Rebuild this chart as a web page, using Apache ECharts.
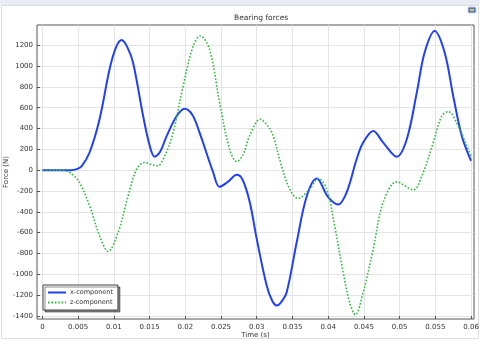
<!DOCTYPE html>
<html>
<head>
<meta charset="UTF-8">
<title>Bearing forces</title>
<style>
html, body { margin: 0; padding: 0; width: 100%; height: 100%; background: #fff; }
#chart { width: 480px; height: 341px; }
</style>
<script src="https://cdn.jsdelivr.net/npm/echarts@6/dist/echarts.min.js"></script>
</head>
<body>
<div id="chart"></div>
<script type="text/javascript">
// time (s) and force (N)
var xTime = [0, 0.002, 0.004, 0.0048, 0.0055, 0.0066, 0.008, 0.0094, 0.0103, 0.0111, 0.0119, 0.0127,
    0.0141, 0.015, 0.0157, 0.0165, 0.0174, 0.0188, 0.0199, 0.021, 0.022, 0.0239, 0.0248, 0.026,
    0.0272, 0.028, 0.029, 0.03, 0.0314, 0.0322, 0.0328, 0.0334, 0.0342, 0.0356, 0.037, 0.0384,
    0.04, 0.0414, 0.0426, 0.044, 0.0449, 0.0463, 0.0477, 0.0496, 0.051, 0.0524, 0.0535, 0.0549,
    0.0563, 0.0575, 0.0587, 0.06];
var xForce = [0, 0, 0, 10, 40, 170, 490, 970, 1180, 1250, 1180, 1030,
    520, 240, 130, 180, 330, 520, 590, 530, 360, -20, -160, -110,
    -45, -90, -300, -660, -1110, -1260, -1300, -1270, -1170, -690, -250, -80,
    -260, -330, -210, 110, 265, 377, 265, 130, 297, 745, 1130, 1337,
    1130, 713, 329, 90];

var zTime = [0, 0.002, 0.0032, 0.0042, 0.0052, 0.0066, 0.008, 0.0092, 0.0106, 0.012, 0.0132, 0.0143,
    0.0152, 0.0161, 0.0172, 0.0183, 0.0197, 0.0211, 0.0221, 0.0234, 0.0248, 0.0262, 0.0272, 0.0281,
    0.029, 0.0305, 0.0316, 0.0323, 0.0332, 0.0346, 0.0358, 0.0374, 0.0386, 0.0398, 0.0409, 0.0421,
    0.043, 0.0438, 0.0449, 0.0463, 0.0477, 0.0496, 0.0519, 0.0533, 0.0547, 0.0559, 0.0568, 0.0582,
    0.0594, 0.06];
var zForce = [0, 0, -5, -40, -118, -342, -630, -780, -598, -246, 10, 74,
    55, 41, 150, 362, 809, 1193, 1290, 1161, 650, 202, 83, 150,
    330, 490, 420, 330, 105, -182, -272, -182, -80, -182, -534, -982,
    -1270, -1390, -1174, -758, -310, -112, -189, -22, 265, 521, 563, 425,
    233, 137];

var timeTicks = [0, 0.005, 0.01, 0.015, 0.02, 0.025, 0.03, 0.035, 0.04, 0.045, 0.05, 0.055, 0.06];
var forceTicks = [-1400, -1200, -1000, -800, -600, -400, -200, 0, 200, 400, 600, 800, 1000, 1200];

function pairs(t, v) {
    var out = [];
    for (var i = 0; i < t.length; i++) out.push([t[i], v[i]]);
    return out;
}

var myChart = echarts.init(document.getElementById('chart'));
var labelStyle = { fontFamily: 'DejaVu Sans', fontSize: 7, color: '#333' };

var option = {
    backgroundColor: '#fff',
    animation: false,
    title: {
        text: 'Bearing forces',
        left: 229, top: 9,
        textStyle: { fontFamily: 'DejaVu Sans', fontSize: 7.5, fontWeight: 'normal', color: '#333' }
    },
    graphic: [
        { type: 'rect', shape: { x: 0, y: 0, width: 480, height: 5 }, style: { fill: '#e8edf5' }, silent: true },
        { type: 'rect', shape: { x: 1.5, y: 5.5, width: 477, height: 333 }, style: { fill: 'none', stroke: '#dcdcdc' }, silent: true },
        { type: 'rect', shape: { x: 468, y: 7, width: 8, height: 6, r: 1 }, style: { fill: '#4a78c8', stroke: '#ccd' }, silent: true },
        { type: 'rect', shape: { x: 470, y: 9, width: 4, height: 2 }, style: { fill: '#e8c840' }, silent: true }
    ],
    grid: { left: 37, right: 6, top: 25, bottom: 22, outerBoundsMode: 'none', containLabel: false,
        show: true, borderColor: '#555', borderWidth: 1 },
    legend: {
        left: 43, top: 285, orient: 'vertical',
        backgroundColor: '#fff', borderColor: '#444', borderWidth: 1,
        shadowColor: 'rgba(0,0,0,0.45)', shadowBlur: 0, shadowOffsetX: 2, shadowOffsetY: 2,
        padding: [4, 5, 4, 4], itemGap: 3, itemWidth: 18, itemHeight: 7,
        itemStyle: { color: 'rgba(0,0,0,0)', borderWidth: 0 },
        textStyle: { fontFamily: 'DejaVu Sans', fontSize: 6.5, color: '#333', padding: [0, 0, 0, -1] },
        data: ['x-component', 'z-component']
    },
    xAxis: {
        type: 'value', min: -0.000756, max: 0.06041,
        name: 'Time (s)', nameLocation: 'middle', nameGap: 12.5, nameMoveOverlap: false,
        nameTextStyle: labelStyle,
        axisLine: { show: false, onZero: false },
        axisTick: { show: true, inside: true, length: 3, customValues: timeTicks, lineStyle: { color: '#555' } },
        axisLabel: { customValues: timeTicks, margin: 5, fontFamily: 'DejaVu Sans', fontSize: 7, color: '#333',
            formatter: function (v) { return String(v); } },
        splitLine: { show: true, lineStyle: { color: '#e4e4e4', width: 1 } }
    },
    yAxis: {
        type: 'value', min: -1430, max: 1395,
        name: 'Force (N)', nameLocation: 'middle', nameGap: 27, nameMoveOverlap: false,
        nameTextStyle: labelStyle,
        axisLine: { show: false, onZero: false },
        axisTick: { show: true, inside: true, length: 3, customValues: forceTicks, lineStyle: { color: '#555' } },
        axisLabel: { customValues: forceTicks, margin: 4, fontFamily: 'DejaVu Sans', fontSize: 7, color: '#333',
            formatter: function (v) { return String(v); } },
        splitLine: { show: true, lineStyle: { color: '#e4e4e4', width: 1 } }
    },
    series: [
        {
            name: 'x-component', type: 'line', data: pairs(xTime, xForce),
            smooth: 0.35, symbol: 'none',
            lineStyle: { color: '#1f3fff', width: 2 },
            itemStyle: { color: '#1f3fff' }
        },
        {
            name: 'z-component', type: 'line', data: pairs(zTime, zForce),
            smooth: 0.35, symbol: 'none',
            lineStyle: { color: '#2dbb3a', width: 1.6, type: [1.6, 1.8] },
            itemStyle: { color: '#2dbb3a' }
        }
    ]
};
myChart.setOption(option);
</script>
</body>
</html>
